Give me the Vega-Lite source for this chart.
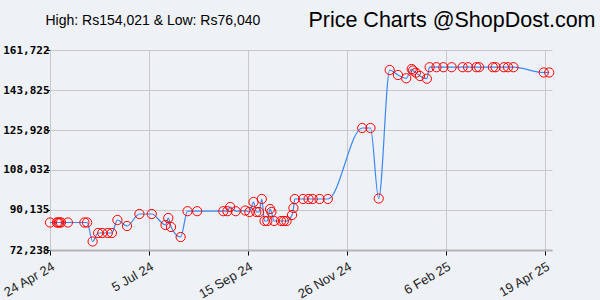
{
  "$schema": "https://vega.github.io/schema/vega-lite/v6.json",
  "width": 502,
  "height": 200,
  "autosize": {"type": "none"},
  "padding": {"left": 50, "top": 50, "right": 48, "bottom": 50},
  "background": "#eef1f5",
  "config": {"view": {"stroke": null}},
  "data": {
    "values": [
      {"date": "2024-04-24", "price": 84540},
      {"date": "2024-04-29", "price": 84540},
      {"date": "2024-04-30", "price": 84540},
      {"date": "2024-05-01", "price": 84540},
      {"date": "2024-05-02", "price": 84540},
      {"date": "2024-05-07", "price": 84540},
      {"date": "2024-05-19", "price": 84540},
      {"date": "2024-05-21", "price": 84540},
      {"date": "2024-05-25", "price": 76040},
      {"date": "2024-05-29", "price": 79840},
      {"date": "2024-06-01", "price": 79840},
      {"date": "2024-06-05", "price": 79840},
      {"date": "2024-06-08", "price": 79840},
      {"date": "2024-06-12", "price": 85660},
      {"date": "2024-06-19", "price": 82980},
      {"date": "2024-06-28", "price": 88350},
      {"date": "2024-07-07", "price": 88350},
      {"date": "2024-07-17", "price": 83420},
      {"date": "2024-07-19", "price": 86560},
      {"date": "2024-07-21", "price": 82530},
      {"date": "2024-07-28", "price": 78050},
      {"date": "2024-08-02", "price": 89600},
      {"date": "2024-08-09", "price": 89600},
      {"date": "2024-08-28", "price": 89600},
      {"date": "2024-08-31", "price": 89600},
      {"date": "2024-09-02", "price": 91480},
      {"date": "2024-09-06", "price": 89600},
      {"date": "2024-09-13", "price": 89900},
      {"date": "2024-09-16", "price": 89240},
      {"date": "2024-09-19", "price": 93710},
      {"date": "2024-09-21", "price": 89240},
      {"date": "2024-09-23", "price": 89240},
      {"date": "2024-09-25", "price": 95060},
      {"date": "2024-09-27", "price": 85210},
      {"date": "2024-09-29", "price": 85210},
      {"date": "2024-10-01", "price": 90580},
      {"date": "2024-10-02", "price": 89240},
      {"date": "2024-10-04", "price": 85210},
      {"date": "2024-10-09", "price": 85210},
      {"date": "2024-10-11", "price": 85210},
      {"date": "2024-10-13", "price": 85210},
      {"date": "2024-10-17", "price": 87900},
      {"date": "2024-10-18", "price": 91030},
      {"date": "2024-10-19", "price": 95060},
      {"date": "2024-10-25", "price": 95060},
      {"date": "2024-10-29", "price": 95060},
      {"date": "2024-11-01", "price": 95060},
      {"date": "2024-11-06", "price": 95060},
      {"date": "2024-11-12", "price": 95060},
      {"date": "2024-12-07", "price": 126820},
      {"date": "2024-12-13", "price": 126820},
      {"date": "2024-12-19", "price": 95280},
      {"date": "2024-12-27", "price": 152770},
      {"date": "2025-01-02", "price": 150540},
      {"date": "2025-01-08", "price": 149060},
      {"date": "2025-01-12", "price": 153220},
      {"date": "2025-01-13", "price": 152550},
      {"date": "2025-01-15", "price": 151570},
      {"date": "2025-01-18", "price": 150090},
      {"date": "2025-01-23", "price": 148880},
      {"date": "2025-01-25", "price": 154021},
      {"date": "2025-01-30", "price": 154021},
      {"date": "2025-02-04", "price": 154021},
      {"date": "2025-02-10", "price": 154021},
      {"date": "2025-02-18", "price": 154021},
      {"date": "2025-02-22", "price": 154021},
      {"date": "2025-02-28", "price": 154021},
      {"date": "2025-03-02", "price": 154021},
      {"date": "2025-03-12", "price": 154021},
      {"date": "2025-03-14", "price": 154021},
      {"date": "2025-03-20", "price": 154021},
      {"date": "2025-03-23", "price": 154021},
      {"date": "2025-03-27", "price": 154021},
      {"date": "2025-04-18", "price": 151660},
      {"date": "2025-04-22", "price": 151660}
    ]
  },
  "encoding": {
    "x": {
      "field": "date",
      "type": "temporal",
      "scale": {
        "type": "utc",
        "domain": [
          {"year": 2024, "month": 4, "date": 24, "utc": true},
          {"year": 2025, "month": 4, "date": 24, "utc": true}
        ]
      },
      "axis": {
        "title": "Price Charts @ShopDost.com",
        "titleAngle": 0,
        "titleAlign": "right",
        "titleBaseline": "alphabetic",
        "titleX": 545,
        "titleY": -224,
        "titleFont": "Liberation Sans",
        "titleFontSize": 21.5,
        "titleFontWeight": "normal",
        "titleColor": "#000000",
        "values": [
          {"year": 2024, "month": 4, "date": 24, "utc": true},
          {"year": 2024, "month": 7, "date": 5, "utc": true},
          {"year": 2024, "month": 9, "date": 15, "utc": true},
          {"year": 2024, "month": 11, "date": 26, "utc": true},
          {"year": 2025, "month": 2, "date": 6, "utc": true},
          {"year": 2025, "month": 4, "date": 19, "utc": true}
        ],
        "format": "%-d %b %y",
        "labelAngle": -30,
        "labelAlign": "right",
        "labelBaseline": "top",
        "labelFont": "Liberation Sans",
        "labelFontSize": 13,
        "labelColor": "#222222",
        "labelPadding": 5,
        "labelDx": 2,
        "grid": true,
        "gridColor": "#c8c8c8",
        "gridWidth": 1,
        "domainColor": "#b4b4b4",
        "domainWidth": 2,
        "tickColor": "#000000",
        "tickSize": 5,
        "labelOverlap": false
      }
    },
    "y": {
      "field": "price",
      "type": "quantitative",
      "scale": {"domain": [72238, 161722], "nice": false, "zero": false},
      "axis": {
        "title": "High: Rs154,021 & Low: Rs76,040",
        "titleAngle": 0,
        "titleAlign": "left",
        "titleBaseline": "alphabetic",
        "titleX": -5,
        "titleY": -26,
        "titleFont": "Liberation Sans",
        "titleFontSize": 14,
        "titleFontWeight": "normal",
        "titleColor": "#000000",
        "values": [72238, 90135, 108032, 125928, 143825, 161722],
        "format": ",d",
        "labelFont": "DejaVu Sans Mono",
        "labelFontWeight": "bold",
        "labelFontSize": 11,
        "labelColor": "#000000",
        "labelPadding": -3,
        "labelOverlap": false,
        "labelFlush": false,
        "grid": true,
        "gridColor": "#c8c8c8",
        "gridWidth": 1,
        "domainColor": "#c8c8c8",
        "tickColor": "#000000",
        "tickSize": 4
      }
    }
  },
  "layer": [
    {
      "mark": {"type": "line", "interpolate": "monotone", "color": "#3b88f5", "strokeWidth": 1.2}
    },
    {
      "mark": {"type": "point", "shape": "circle", "filled": false, "color": "#ff0000", "size": 85, "strokeWidth": 1, "opacity": 1}
    }
  ]
}
